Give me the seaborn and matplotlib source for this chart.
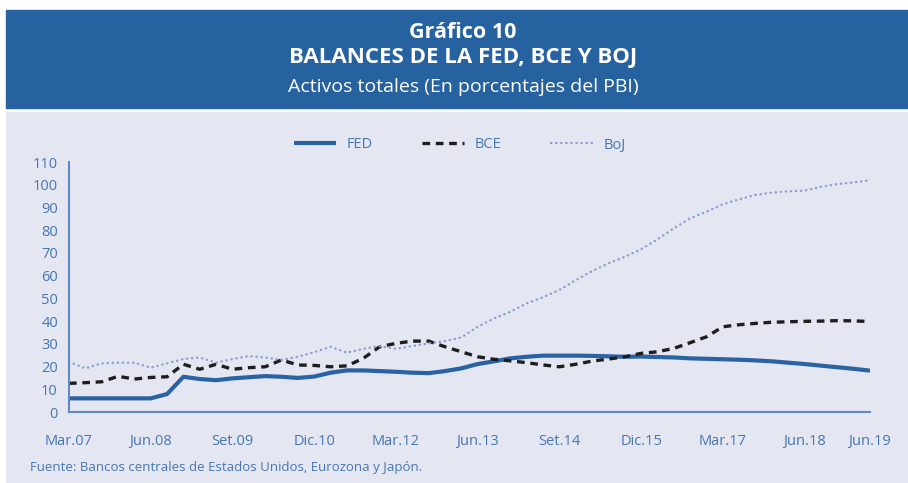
import numpy as np
import pandas as pd
import matplotlib
matplotlib.use("Agg")
import matplotlib.pyplot as plt
import seaborn as sns
from matplotlib.patches import Rectangle

# ---- data (quarterly, Mar.07 .. Jun.19) ----
fed = [6.0, 6.0, 6.0, 6.0, 6.0, 6.0, 7.9, 15.5, 14.5, 14.0,
       14.8, 15.3, 15.8, 15.5, 15.0, 15.6, 17.3, 18.3, 18.3, 18.0,
       17.7, 17.3, 17.1, 18.0, 19.2, 21.1, 22.3, 23.6, 24.3, 24.8,
       24.8, 24.8, 24.7, 24.5, 24.3, 24.4, 24.2, 24.0, 23.6, 23.4,
       23.2, 23.0, 22.7, 22.3, 21.7, 21.1, 20.4, 19.7, 19.0, 18.2]
bce = [12.6, 12.9, 13.3, 15.7, 14.5, 15.2, 15.5, 21.0, 18.8, 21.0,
       18.8, 19.5, 19.9, 22.9, 20.7, 20.5, 19.9, 20.3, 23.6, 28.7,
       30.2, 31.2, 31.2, 28.7, 26.5, 24.3, 23.2, 22.5, 21.7, 20.7,
       19.9, 21.0, 22.4, 23.3, 24.3, 25.8, 26.5, 28.0, 30.5, 33.1,
       37.5, 38.4, 39.0, 39.5, 39.7, 39.9, 40.0, 40.2, 40.1, 39.8]
boj = [22.1, 19.2, 21.4, 21.7, 21.7, 19.5, 21.4, 23.3, 24.0, 21.7,
       23.3, 24.6, 24.0, 22.9, 24.3, 26.3, 28.7, 26.1, 27.8, 29.0,
       27.8, 29.0, 30.2, 31.2, 32.8, 37.5, 41.2, 44.1, 47.8, 50.5,
       53.7, 58.0, 62.0, 65.4, 68.3, 71.6, 76.0, 80.8, 85.2, 88.1,
       91.4, 93.6, 95.5, 96.5, 97.1, 97.4, 99.1, 100.3, 101.0, 102.0]
tick_pos = [0, 5, 10, 15, 20, 25, 30, 35, 40, 45, 49]
tick_labels = ["Mar.07", "Jun.08", "Set.09", "Dic.10", "Mar.12", "Jun.13",
               "Set.14", "Dic.15", "Mar.17", "Jun.18", "Jun.19"]
y_ticks = list(range(0, 111, 10))

quarter = np.arange(len(fed))
df = pd.DataFrame({"q": quarter, "FED": fed, "BCE": bce, "BoJ": boj})

# ---- styling ----
sns.set_style("white")
plt.rcParams["font.family"] = ["Open Sans", "DejaVu Sans"]

BANNER = "#2662a0"
BG = "#e4e6f2"
TXT = "#4677b2"
AXC = "#5f8ac0"
FEDC = "#2a63a3"
BOJC = "#8aa0d0"

fig = plt.figure(figsize=(9.08, 4.83), dpi=100)
W, H = 908, 483
fig.patches.append(Rectangle((6 / W, (H - 108) / H), (W - 6) / W, 98 / H,
                             transform=fig.transFigure, color=BANNER, zorder=-5))
fig.patches.append(Rectangle((6 / W, 0), (W - 6) / W, (H - 112) / H,
                             transform=fig.transFigure, color=BG, zorder=-5))

cx = 463 / W
fig.text(cx, 1 - 32 / H, "Gráfico 10", ha="center", va="center",
         color="white", fontsize=15.5, fontweight="bold")
fig.text(cx, 1 - 58 / H, "BALANCES DE LA FED, BCE Y BOJ", ha="center",
         va="center", color="white", fontsize=16, fontweight="bold")
fig.text(cx, 1 - 87 / H, "Activos totales (En porcentajes del PBI)",
         ha="center", va="center", color="white", fontsize=14)
fig.text(30 / W, 1 - 468 / H,
         "Fuente: Bancos centrales de Estados Unidos, Eurozona y Japón.",
         ha="left", va="center", color=TXT, fontsize=9.5)

ax = fig.add_axes([69 / W, (H - 412) / H, 801 / W, 250 / H])
ax.set_facecolor("none")
ax.set_zorder(2)

sns.lineplot(data=df, x="q", y="FED", ax=ax, color=FEDC, linewidth=3,
             label="FED", solid_capstyle="butt")
sns.lineplot(data=df, x="q", y="BCE", ax=ax, color="#1e1e1e", linewidth=2.4,
             label="BCE", linestyle=(0, (2.3, 1.7)))
sns.lineplot(data=df, x="q", y="BoJ", ax=ax, color=BOJC, linewidth=1.7,
             label="BoJ", linestyle=(0, (0.15, 2.0)), dash_capstyle="round")

ax.set_xlim(0, 49)
ax.set_ylim(0, 110)
ax.set_xticks(tick_pos)
ax.set_xticklabels(tick_labels)
ax.set_yticks(y_ticks)
ax.set_xlabel("")
ax.set_ylabel("")
for s in ["top", "right"]:
    ax.spines[s].set_visible(False)
for s in ["left", "bottom"]:
    ax.spines[s].set_color(AXC)
    ax.spines[s].set_linewidth(1.5)
ax.tick_params(axis="both", colors=AXC, labelcolor=TXT, labelsize=10.5,
               direction="out", length=5, width=1.3)
ax.tick_params(axis="x", pad=11)
ax.tick_params(axis="y", pad=3)

leg = ax.legend(loc="center", bbox_to_anchor=(0.488, 1.068), ncol=3,
                frameon=False, handlelength=2.9, columnspacing=3.4,
                handletextpad=0.7, fontsize=10.5)
for t in leg.get_texts():
    t.set_color(TXT)

fig.savefig("out.png", dpi=100, facecolor="white")
